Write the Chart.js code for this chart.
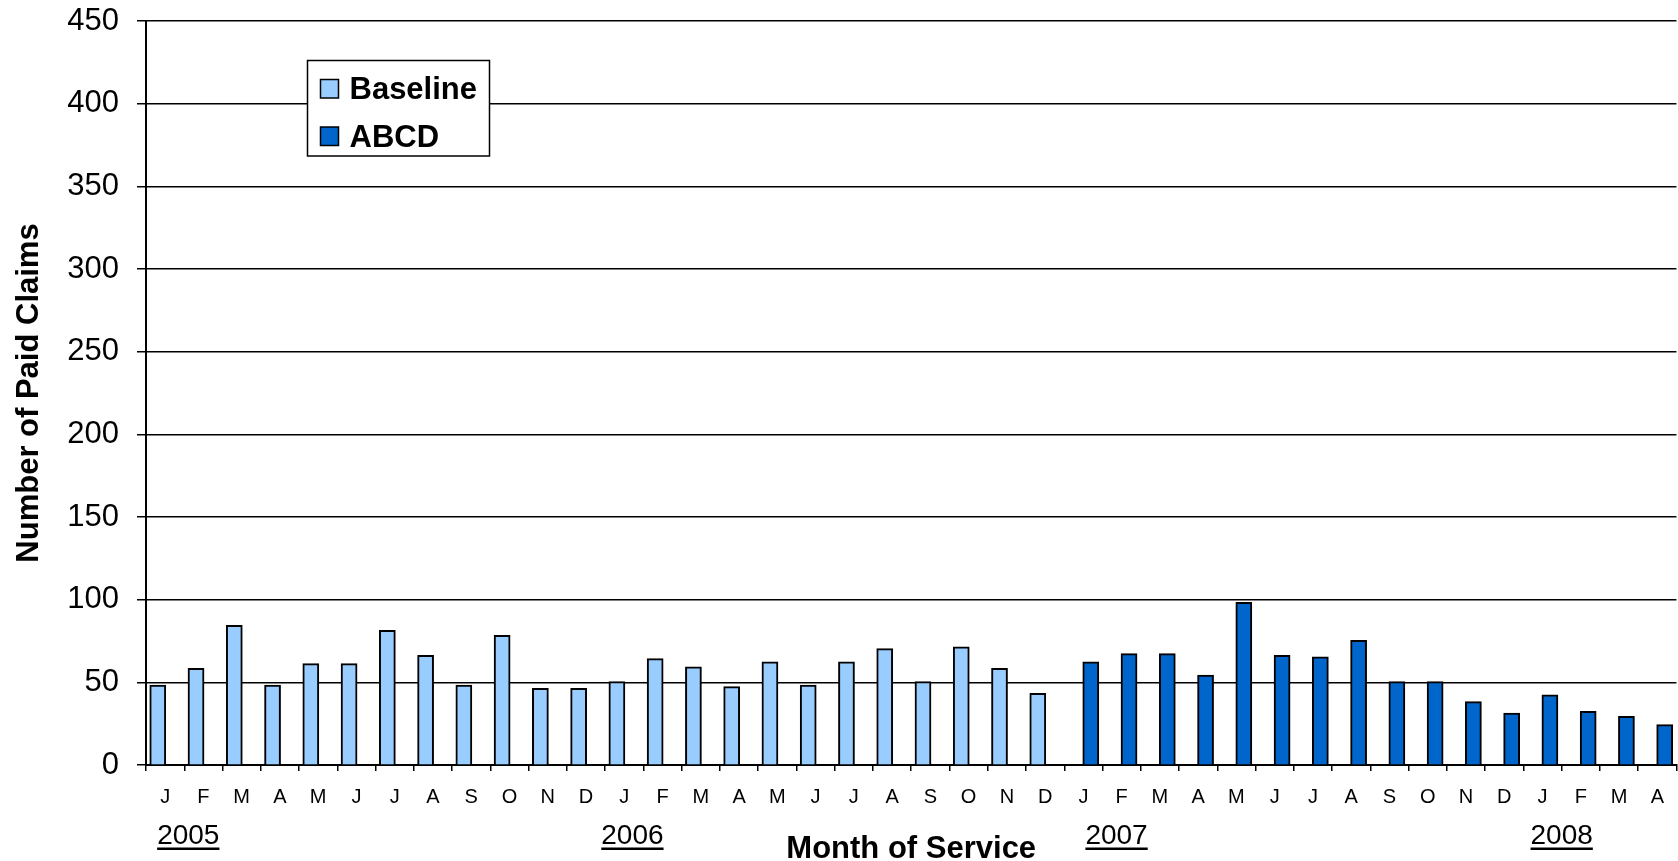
<!DOCTYPE html>
<html>
<head>
<meta charset="utf-8">
<script src="https://cdn.jsdelivr.net/npm/chart.js@4.4.1/dist/chart.umd.min.js"></script>
<style>
  html, body { margin: 0; padding: 0; background: #fff; }
  #chart { display: block; }
</style>
</head>
<body>
<canvas id="chart" width="1678" height="861"></canvas>
<script>
// month labels along the x axis (Jan 2005 .. Apr 2008)
const monthLabels = [
  'J','F','M','A','M','J','J','A','S','O','N','D',
  'J','F','M','A','M','J','J','A','S','O','N','D',
  'J','F','M','A','M','J','J','A','S','O','N','D',
  'J','F','M','A'
];

// Baseline period: 2005-2006
const baselineClaims = [48, 58, 84, 48, 61, 61, 81, 66, 48, 78, 46, 46,
                        50, 64, 59, 47, 62, 48, 62, 70, 50, 71, 58, 43];

// ABCD period: 2007 - Apr 2008
const abcdClaims = [62, 67, 67, 54, 98, 66, 65, 75, 50, 50, 38, 31,
                    42, 32, 29, 24];

const yearLabels = ['2005', '2006', '2007', '2008'];
const yearStartIndex = [0, 12, 24, 36];
const yearShift = [-8, -23, 2, -12];

const yMin = 0;
const yMax = 450;
const yStep = 50;

const FONT = '"Liberation Sans", Arial, sans-serif';

// datasets span all months, empty where the period does not apply
const baselineData = baselineClaims.concat(abcdClaims.map(() => null));
const abcdData = baselineClaims.map(() => null).concat(abcdClaims);

// legend box and underlined year labels
const overlayPlugin = {
  id: 'overlay',
  afterDraw(chart) {
    const ctx = chart.ctx;
    const xs = chart.scales.x;
    const area = chart.chartArea;
    ctx.save();

    // years under the month labels
    ctx.font = '28px ' + FONT;
    ctx.fillStyle = '#000';
    ctx.textAlign = 'left';
    ctx.textBaseline = 'alphabetic';
    yearLabels.forEach((yr, i) => {
      const left = xs.getPixelForValue(yearStartIndex[i]) + yearShift[i];
      ctx.fillText(yr, left, xs.top + 79);
      const w = ctx.measureText(yr).width;
      ctx.fillRect(left, xs.top + 82.5, w, 2.5);
    });

    // legend
    const bx = area.left + 161.5;
    const by = area.top + 39.5;
    ctx.fillStyle = '#fff';
    ctx.fillRect(bx, by, 182, 95.5);
    ctx.strokeStyle = '#000';
    ctx.lineWidth = 1.5;
    ctx.strokeRect(bx, by, 182, 95.5);
    ctx.font = 'bold 31px ' + FONT;
    chart.data.datasets.forEach((ds, i) => {
      const rowY = by + 19 + i * 47.5;
      ctx.fillStyle = ds.backgroundColor;
      ctx.fillRect(bx + 13, rowY, 18, 18.5);
      ctx.strokeRect(bx + 13, rowY, 18, 18.5);
      ctx.fillStyle = '#000';
      ctx.fillText(ds.label, bx + 42, rowY + 19.5);
    });
    ctx.restore();
  }
};

new Chart(document.getElementById('chart'), {
  type: 'bar',
  data: {
    labels: monthLabels,
    datasets: [
      {
        label: 'Baseline',
        data: baselineData,
        backgroundColor: '#99CCFF',
        borderColor: '#000',
        borderWidth: 2,
        inflateAmount: 1,
        categoryPercentage: 0.77,
        barPercentage: 1.0
      },
      {
        label: 'ABCD',
        data: abcdData,
        backgroundColor: '#0066CC',
        borderColor: '#000',
        borderWidth: 2,
        inflateAmount: 1,
        categoryPercentage: 0.77,
        barPercentage: 1.0
      }
    ]
  },
  options: {
    responsive: false,
    animation: false,
    layout: { padding: { top: 21, right: 0, bottom: 0, left: 0 } },
    plugins: {
      legend: { display: false },
      tooltip: { enabled: false }
    },
    scales: {
      x: {
        afterFit(scale) { scale.height = 96; },
        grid: {
          offset: true,
          drawOnChartArea: false,
          drawTicks: true,
          tickLength: 6,
          color: '#000',
          lineWidth: 1.5
        },
        border: { color: '#000', width: 2 },
        ticks: {
          color: '#000',
          font: { family: FONT, size: 20 },
          padding: 14,
          maxRotation: 0,
          autoSkip: false
        },
        title: {
          display: true,
          text: 'Month of Service',
          color: '#000',
          font: { family: FONT, size: 31, weight: 'bold', lineHeight: 0.75 },
          padding: 0
        }
      },
      y: {
        min: yMin,
        max: yMax,
        // fixed axis width, and no extra room above the top label
        afterFit(scale) {
          scale.width = 146;
          scale.paddingTop = 0;
          scale.paddingBottom = 0;
        },
        grid: {
          color: '#000',
          lineWidth: 1.5,
          drawTicks: true,
          tickLength: 9
        },
        border: { color: '#000', width: 2 },
        ticks: {
          stepSize: yStep,
          color: '#000',
          font: { family: FONT, size: 31 },
          padding: 18
        },
        title: {
          display: true,
          text: 'Number of Paid Claims',
          color: '#000',
          font: { family: FONT, size: 31, weight: 'bold', lineHeight: 1 },
          padding: { top: 14, bottom: 0 }
        }
      }
    }
  },
  plugins: [overlayPlugin]
});
</script>
</body>
</html>
